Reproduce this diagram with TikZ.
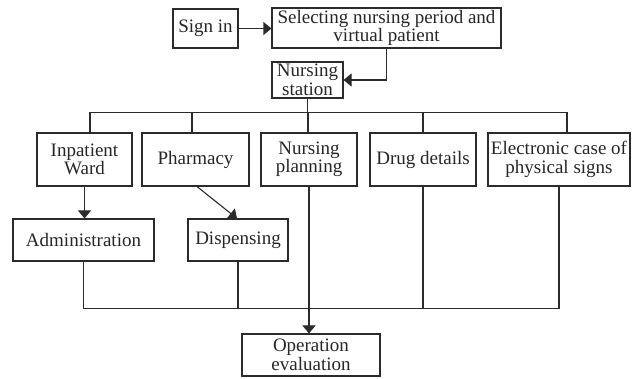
\documentclass[tikz,border=0pt]{standalone}
\usepackage{fontspec}
\setmainfont{Liberation Serif}
\usetikzlibrary{arrows.meta}
\definecolor{lc}{HTML}{2B2B2B}
\begin{document}
\begin{tikzpicture}[x=1pt,y=-1pt,
  box/.style={draw=lc, line width=1.1pt, align=center, inner sep=0pt,
              text=black!85, font=\fontsize{19}{18.5}\selectfont},
  ln/.style={draw=lc, line width=1.1pt},
  arr/.style={ln, -{Triangle[length=8pt,width=13pt]}}]
\useasboundingbox (0,0) rectangle (635,379);

\node[box, minimum width=65pt, minimum height=39pt] (signin) at (205.5,28.5) {Sign in};
\node[box, minimum width=229pt, minimum height=40pt] (select) at (386.5,28) {Selecting nursing period and\\virtual patient};
\node[box, minimum width=71pt, minimum height=36pt] (station) at (307.5,80) {Nursing\\station};

\node[box, minimum width=95pt, minimum height=53pt] (inpatient) at (84.5,159.5) {Inpatient\\Ward};
\node[box, minimum width=107pt, minimum height=53pt] (pharmacy) at (195.5,159.5) {Pharmacy};
\node[box, minimum width=96pt, minimum height=53pt] (planning) at (309,159.5) {Nursing\\planning};
\node[box, minimum width=106pt, minimum height=53pt] (drug) at (423,159.5) {Drug details};
\node[box, minimum width=142pt, minimum height=53pt] (elec) at (559,159.5) {Electronic case of\\physical signs};

\node[box, minimum width=141pt, minimum height=42pt] (admin) at (83.5,240) {Administration};
\node[box, minimum width=100pt, minimum height=42pt] (disp) at (238,240) {Dispensing};

\node[box, minimum width=138pt, minimum height=42pt] (opeval) at (311,355) {Operation\\evaluation};

% top flow
\draw[arr] (signin.east) -- (signin.east -| select.west);
\draw[arr] (select.south) |- (station.east);
\draw[ln] (station.south) -- ++(0,15);

% top bus
\draw[ln] ([xshift=5.5pt]inpatient.north) -- ++(0,-20) -| ([xshift=8pt]elec.north);
\draw[ln] ([xshift=-3.5pt]pharmacy.north) -- ++(0,-20);
\draw[ln] ([xshift=-1pt]planning.north) -- ++(0,-20);
\draw[ln] (drug.north) -- ++(0,-20);

% second level arrows
\draw[arr] (inpatient.south) -- (inpatient.south |- admin.north);
\draw[arr] ([xshift=1.5pt]pharmacy.south) -- ([xshift=-1pt]disp.north);

% bottom bus
\draw[ln] (admin.south) -- ++(0,47) -| (elec.south);
\draw[ln] (disp.south) -- ++(0,47);
\draw[ln] (drug.south) -- ++(0,122);

% to operation evaluation
\draw[arr] (planning.south) -- (planning.south |- opeval.north);
\end{tikzpicture}
\end{document}
